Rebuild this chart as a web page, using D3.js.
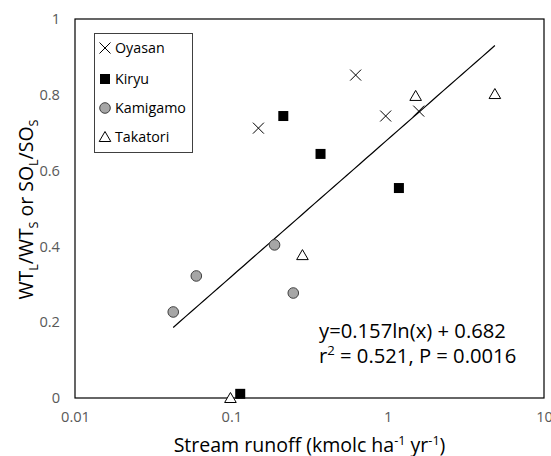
<!DOCTYPE html>
<html><head><meta charset="utf-8">
<script src="https://cdn.jsdelivr.net/npm/d3@7"></script>
<style>body{margin:0;background:#fff}svg{display:block}</style>
</head><body><svg id="c" width="551" height="456"></svg>
<script>
const xTicks = [0.01, 0.1, 1, 10];
const yTicks = [0, 0.2, 0.4, 0.6, 0.8, 1];
const oyasanX = [0.149, 0.624, 0.971, 1.58];
const oyasanY = [0.712, 0.852, 0.744, 0.757];
const kiryuX = [0.215, 0.372, 1.18, 0.114];
const kiryuY = [0.744, 0.644, 0.554, 0.011];
const kamigamoX = [0.0425, 0.0597, 0.189, 0.249];
const kamigamoY = [0.227, 0.322, 0.404, 0.277];
const takatoriX = [0.0987, 0.285, 1.51, 4.85];
const takatoriY = [0.0, 0.377, 0.797, 0.802];
const fitA = 0.157, fitB = 0.682;
const fitRange = [0.0425, 4.85];
const seriesNames = ["Oyasan", "Kiryu", "Kamigamo", "Takatori"];

const svg = d3.select("#c");
const L = 75, R = 544, T = 19, B = 398;
const x = d3.scaleLog().domain([0.01, 10]).range([L, R]);
const y = d3.scaleLinear().domain([0, 1]).range([B, T]);
const font = "'Open Sans', sans-serif";

// scale a text element's font so its width matches target
function fitWidth(sel, target) {
  const node = sel.node();
  const w = node.getComputedTextLength ? node.getComputedTextLength() : node.getBBox().width;
  const fs = parseFloat(sel.style("font-size"));
  const k = target / w;
  sel.style("font-size", (fs * k) + "px");
  sel.selectAll("tspan").each(function () {
    const t = d3.select(this);
    if (this.style.fontSize) t.style("font-size", (parseFloat(this.style.fontSize) * k) + "px");
    const dy = t.attr("dy");
    if (dy) t.attr("dy", parseFloat(dy) * k);
  });
}

// frame
svg.append("rect").attr("x", L).attr("y", T).attr("width", R - L).attr("height", B - T)
  .attr("fill", "none").attr("stroke", "#000").attr("stroke-width", 1.2);

const xa = svg.append("g").attr("transform", `translate(0,${B})`)
  .call(d3.axisBottom(x).tickValues(xTicks).tickFormat(d => String(d)).tickSize(0).tickPadding(14));
const ya = svg.append("g").attr("transform", `translate(${L},0)`)
  .call(d3.axisLeft(y).tickValues(yTicks).tickFormat(d => String(d)).tickSize(0).tickPadding(15));
[xa, ya].forEach(g => {
  g.select(".domain").remove();
  g.selectAll("text").attr("fill", "#595959").style("font-family", font).style("font-size", "13px");
});

// fit line
const fitPts = d3.range(0, 51).map(i => {
  const lx = Math.log(fitRange[0]) + (Math.log(fitRange[1]) - Math.log(fitRange[0])) * i / 50;
  const xv = Math.exp(lx);
  return [xv, fitA * Math.log(xv) + fitB];
});
svg.append("path").datum(fitPts)
  .attr("d", d3.line().x(d => x(d[0])).y(d => y(d[1])))
  .attr("fill", "none").attr("stroke", "#000").attr("stroke-width", 1.2);

function drawCross(g, cx, cy) {
  const s = 5.5;
  g.append("path").attr("d", `M${cx - s},${cy - s}L${cx + s},${cy + s}M${cx - s},${cy + s}L${cx + s},${cy - s}`)
    .attr("stroke", "#000").attr("stroke-width", 1).attr("fill", "none");
}
function drawSquare(g, cx, cy) {
  g.append("rect").attr("x", cx - 5).attr("y", cy - 5).attr("width", 10).attr("height", 10).attr("fill", "#000");
}
function drawCircle(g, cx, cy) {
  g.append("circle").attr("cx", cx).attr("cy", cy).attr("r", 5.3)
    .attr("fill", "#a6a6a6").attr("stroke", "#404040").attr("stroke-width", 1);
}
function drawTri(g, cx, cy) {
  g.append("path").attr("d", `M${cx},${cy - 5.5}L${cx + 5.8},${cy + 4.5}L${cx - 5.8},${cy + 4.5}Z`)
    .attr("fill", "#fff").attr("stroke", "#000").attr("stroke-width", 1);
}
const drawers = [drawCross, drawSquare, drawCircle, drawTri];
const xs = [oyasanX, kiryuX, kamigamoX, takatoriX];
const ys = [oyasanY, kiryuY, kamigamoY, takatoriY];
const pts = svg.append("g");
xs.forEach((arr, si) => arr.forEach((v, i) => drawers[si](pts, x(v), y(ys[si][i]))));

// legend
const lg = svg.append("g");
lg.append("rect").attr("x", 94.5).attr("y", 33.5).attr("width", 98).attr("height", 119)
  .attr("fill", "#fff").attr("stroke", "#404040").attr("stroke-width", 1);
const legY = [48, 79, 108, 137];
const legTexts = [];
seriesNames.forEach((n, i) => {
  drawers[i](lg, 105, legY[i]);
  legTexts.push(lg.append("text").attr("x", 115).attr("y", legY[i] + 5).text(n)
    .style("font-family", font).style("font-size", "14px").attr("fill", "#000"));
});
// match "Kamigamo" width ~71px and apply same size to all
{
  const w = legTexts[2].node().getComputedTextLength();
  const fs = 14 * 71 / w;
  legTexts.forEach(t => t.style("font-size", fs + "px"));
}

// equation text
const eq = svg.append("g").style("font-family", font).attr("fill", "#000");
const e1 = eq.append("text").attr("x", 319).attr("y", 338).style("font-size", "17px").text("y=0.157ln(x) + 0.682");
fitWidth(e1, 187);
const eqFs = parseFloat(e1.style("font-size"));
const t2 = eq.append("text").attr("x", 319).attr("y", 363).style("font-size", eqFs + "px");
t2.append("tspan").text("r");
t2.append("tspan").attr("dy", -0.38 * eqFs).style("font-size", (0.65 * eqFs) + "px").text("2");
t2.append("tspan").attr("dy", 0.38 * eqFs).text(" = 0.521, P = 0.0016");

// axis titles
const xt = svg.append("text").attr("x", (L + R) / 2).attr("y", 452).attr("text-anchor", "middle")
  .style("font-family", font).style("font-size", "17px").attr("fill", "#000");
xt.append("tspan").text("Stream runoff (kmolc ha");
xt.append("tspan").attr("dy", -6).style("font-size", "11px").text("-1");
xt.append("tspan").attr("dy", 6).text(" yr");
xt.append("tspan").attr("dy", -6).style("font-size", "11px").text("-1");
xt.append("tspan").attr("dy", 6).text(")");
fitWidth(xt, 272);

const yt = svg.append("text").attr("transform", `translate(33,${(T + B) / 2 + 1}) rotate(-90)`)
  .attr("text-anchor", "middle").style("font-family", font).style("font-size", "17px").attr("fill", "#000");
const parts = [["WT", 0], ["L", 1], ["/WT", 0], ["S", 1], [" or SO", 0], ["L", 1], ["/SO", 0], ["S", 1]];
let prevSub = false;
parts.forEach(([t, sub]) => {
  const ts = yt.append("tspan").text(t);
  if (sub) ts.style("font-size", "11px");
  if (sub && !prevSub) ts.attr("dy", 4);
  else if (!sub && prevSub) ts.attr("dy", -4);
  prevSub = !!sub;
});
fitWidth(yt, 180);

// tick labels width match: "0.01" ~29px
{
  const tn = xa.selectAll("text").nodes()[0];
  const w = tn.getComputedTextLength();
  const fs = 13 * 29 / w;
  [xa, ya].forEach(g => g.selectAll("text").style("font-size", fs + "px"));
}
</script></body></html>
